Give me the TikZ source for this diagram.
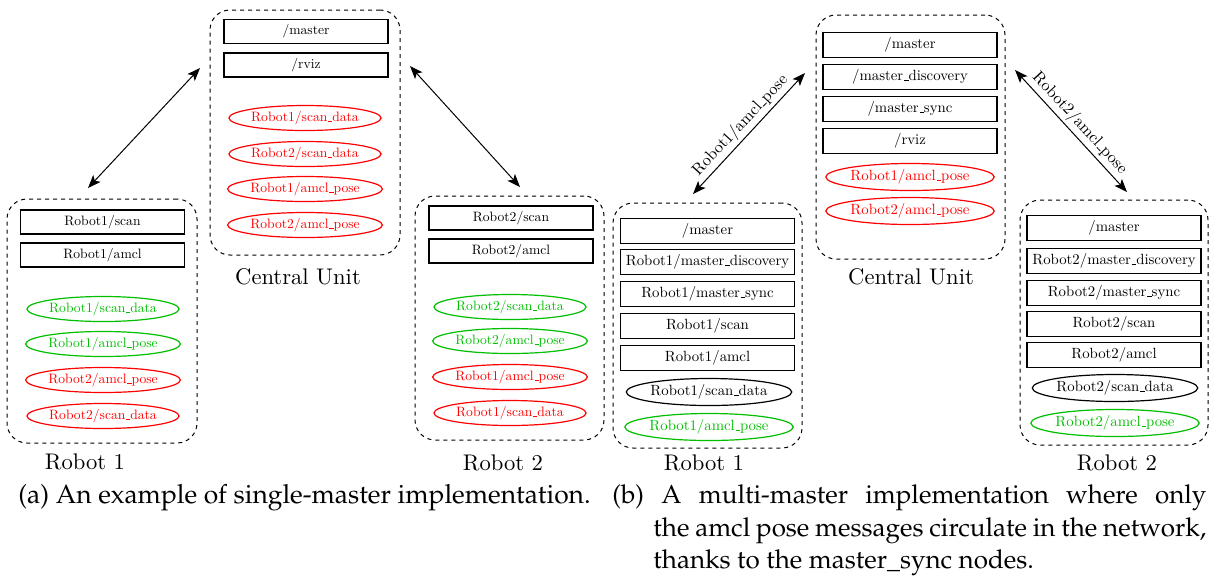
\documentclass[tikz,border=0pt]{standalone}
\usepackage[T1,TU]{fontenc}
\usepackage{tikz}
\usetikzlibrary{arrows.meta,shapes.geometric}
\definecolor{topicred}{RGB}{255,0,0}
\definecolor{topicgreen}{RGB}{0,190,0}
\font\nodefontA="[lmroman10-regular]" at 6.8pt
\font\nodefontB="[lmroman10-regular]" at 7.4pt
\font\linkfont="[lmroman10-regular]" at 8.2pt
\font\unitfont="[lmroman10-regular]" at 11.3pt
\newcommand{\rosus}{\leavevmode\kern.06em\vbox{\hrule width.3em}}
\newcommand{\capfont}{\fontencoding{T1}\fontfamily{ppl}\fontsize{13}{16}\selectfont}
\tikzset{
	unitbox/.style={draw,dash pattern=on 2pt off 2pt,rounded corners=10pt,line width=0.5pt},
	procA/.style={draw,line width=0.6pt,minimum width=82pt,minimum height=12pt,inner sep=0pt,font=\nodefontA},
	topicA/.style={ellipse,draw,line width=0.6pt,minimum width=73pt,minimum height=12.5pt,inner sep=0pt,font=\nodefontA},
	procB/.style={draw,line width=0.6pt,minimum width=87pt,minimum height=12.5pt,inner sep=0pt,font=\nodefontB},
	topicB/.style={ellipse,draw,line width=0.6pt,minimum width=78pt,minimum height=13.5pt,inner sep=0pt,font=\nodefontB},
	unitlabel/.style={font=\unitfont},
	link/.style={{Stealth[length=6.5pt,width=5pt,inset=1.5pt]}-{Stealth[length=6.5pt,width=5pt,inset=1.5pt]},line width=0.5pt},
	linklabel/.style={sloped,above,inner sep=1.5pt,font=\linkfont},
	caption/.style={anchor=west,inner sep=0pt,font=\capfont}
}
\begin{document}
\begin{tikzpicture}[x=0.5pt,y=-0.5pt]
		\useasboundingbox (0,0) rectangle (1209,580);
		\node [unitbox,minimum width=95pt,minimum height=122.5pt] (cuA) at (305,132.5) {};
		\node [procA] (cuAmaster) at (306,31.5) {/master};
		\node [procA] (cuArviz) at (306,65) {/rviz};
		\node [topicA,draw=topicred,text=topicred] (cuAscanI) at (305,118) {Robot1/scan\rosus data};
		\node [topicA,draw=topicred,text=topicred] (cuAscanII) at (305,154) {Robot2/scan\rosus data};
		\node [topicA,draw=topicred,text=topicred] (cuAposeI) at (305,189) {Robot1/amcl\rosus pose};
		\node [topicA,draw=topicred,text=topicred] (cuAposeII) at (305,225) {Robot2/amcl\rosus pose};
		\node [unitlabel] (cuAlabel) at (298,277) {Central Unit};
		\node [unitbox,minimum width=95pt,minimum height=122pt] (rIA) at (102,321) {};
		\node [procA] (rIAscan) at (102.5,222) {Robot1/scan};
		\node [procA] (rIAamcl) at (102.5,255) {Robot1/amcl};
		\node [topicA,draw=topicgreen,text=topicgreen] (rIAscanI) at (103,309) {Robot1/scan\rosus data};
		\node [topicA,draw=topicgreen,text=topicgreen] (rIAposeI) at (103,344) {Robot1/amcl\rosus pose};
		\node [topicA,draw=topicred,text=topicred] (rIAposeII) at (103,380) {Robot2/amcl\rosus pose};
		\node [topicA,draw=topicred,text=topicred] (rIAscanII) at (103,416) {Robot2/scan\rosus data};
		\node [unitlabel] (rIAlabel) at (85,462) {Robot 1};
		\node [unitbox,minimum width=94.5pt,minimum height=122pt] (rIIA) at (509.5,318) {};
		\node [procA] (rIIAscan) at (511,218) {Robot2/scan};
		\node [procA] (rIIAamcl) at (511,251) {Robot2/amcl};
		\node [topicA,draw=topicgreen,text=topicgreen] (rIIAscanII) at (510,307) {Robot2/scan\rosus data};
		\node [topicA,draw=topicgreen,text=topicgreen] (rIIAposeII) at (510,341) {Robot2/amcl\rosus pose};
		\node [topicA,draw=topicred,text=topicred] (rIIAposeI) at (510,377) {Robot1/amcl\rosus pose};
		\node [topicA,draw=topicred,text=topicred] (rIIAscanI) at (510,413) {Robot1/scan\rosus data};
		\node [unitlabel] (rIIAlabel) at (503,463) {Robot 2};
		\coordinate (aIlow) at (88,188);
		\coordinate (aIhigh) at (200,68);
		\coordinate (aIIhigh) at (410,66);
		\coordinate (aIIlow) at (520,187);
		\draw [link] (aIlow) -- (aIhigh);
		\draw [link] (aIIhigh) -- (aIIlow);
		\node [unitbox,minimum width=94.5pt,minimum height=122pt] (cuB) at (910.5,137) {};
		\node [procB] (cuBmaster) at (910,45) {/master};
		\node [procB] (cuBdisc) at (910,77) {/master\rosus discovery};
		\node [procB] (cuBsync) at (910,109) {/master\rosus sync};
		\node [procB] (cuBrviz) at (910,141) {/rviz};
		\node [topicB,draw=topicred,text=topicred] (cuBposeI) at (910,177) {Robot1/amcl\rosus pose};
		\node [topicB,draw=topicred,text=topicred] (cuBposeII) at (910,211) {Robot2/amcl\rosus pose};
		\node [unitlabel] (cuBlabel) at (911,277) {Central Unit};
		\node [unitbox,minimum width=94.5pt,minimum height=122.5pt] (rIB) at (707.5,325.5) {};
		\node [procB] (rIBmaster) at (707.5,231) {/master};
		\node [procB] (rIBdisc) at (707.5,262) {Robot1/master\rosus discovery};
		\node [procB] (rIBsync) at (707.5,294) {Robot1/master\rosus sync};
		\node [procB] (rIBscan) at (707.5,326) {Robot1/scan};
		\node [procB] (rIBamcl) at (707.5,358) {Robot1/amcl};
		\node [topicB] (rIBscanI) at (709,392) {Robot1/scan\rosus data};
		\node [topicB,draw=topicgreen,text=topicgreen] (rIBposeI) at (709,427) {Robot1/amcl\rosus pose};
		\node [unitlabel] (rIBlabel) at (704,463) {Robot 1};
		\node [unitbox,minimum width=94pt,minimum height=122.5pt] (rIIB) at (1114,322.5) {};
		\node [procB] (rIIBmaster) at (1114,228) {/master};
		\node [procB] (rIIBdisc) at (1114,261) {Robot2/master\rosus discovery};
		\node [procB] (rIIBsync) at (1114,293) {Robot2/master\rosus sync};
		\node [procB] (rIIBscan) at (1114,324) {Robot2/scan};
		\node [procB] (rIIBamcl) at (1114,355) {Robot2/amcl};
		\node [topicB] (rIIBscanII) at (1115,388) {Robot2/scan\rosus data};
		\node [topicB,draw=topicgreen,text=topicgreen] (rIIBposeII) at (1115,423) {Robot2/amcl\rosus pose};
		\node [unitlabel] (rIIBlabel) at (1117,463) {Robot 2};
		\coordinate (bIlow) at (693,194);
		\coordinate (bIhigh) at (805,73);
		\coordinate (bIIhigh) at (1015,70);
		\coordinate (bIIlow) at (1127,192);
		\draw [link] (bIlow) -- node [linklabel] {Robot1/amcl\rosus pose} (bIhigh);
		\draw [link] (bIIhigh) -- node [linklabel] {Robot2/amcl\rosus pose} (bIIlow);
		\node [caption,font=\capfont\fontsize{13.2}{16}\selectfont] (capA) at (18,498) {(a) An example of single-master implementation.};
		\node [caption] (capBi) at (612,498) {\makebox[297pt][s]{(b) A multi-master implementation where only}};
		\node [caption] (capBii) at (653,531) {\makebox[276.5pt][s]{the amcl pose messages circulate in the network,}};
		\node [caption] (capBiii) at (653,563) {thanks to the master\_sync nodes.};
		\end{tikzpicture}
\end{document}
